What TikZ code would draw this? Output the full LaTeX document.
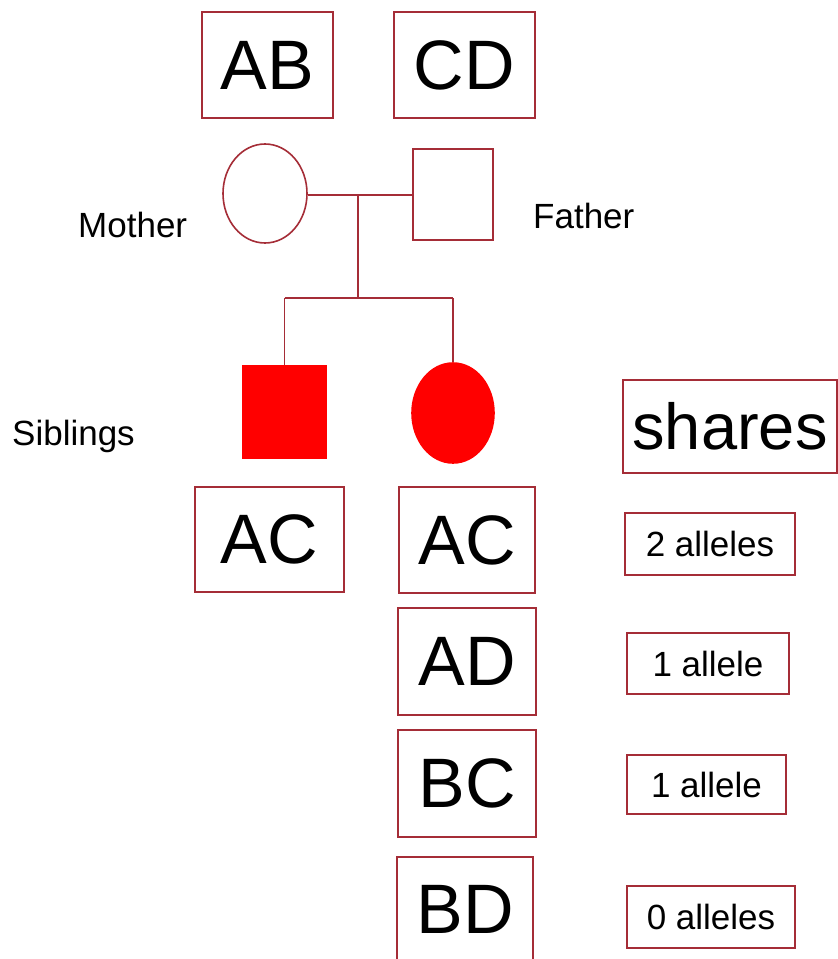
\documentclass[tikz,border=0pt]{standalone}
\usepackage{fontspec}
\setmainfont{Liberation Sans}
\usetikzlibrary{shapes.geometric}
\definecolor{boxred}{RGB}{165,45,55}
\definecolor{fillred}{RGB}{255,0,0}
\tikzset{
  gbox/.style={draw=boxred, line width=1.6pt, rectangle, inner sep=0pt, anchor=center,
    font=\fontsize{70}{80}\selectfont},
  abox/.style={draw=boxred, line width=1.6pt, rectangle, inner sep=0pt, anchor=center,
    font=\fontsize{35}{40}\selectfont},
  lbl/.style={inner sep=0pt, font=\fontsize{35}{40}\selectfont},
  sym/.style={draw=boxred, line width=1.6pt, inner sep=0pt},
  link/.style={draw=boxred, line width=1.6pt},
}
\begin{document}
\begin{tikzpicture}[x=1pt,y=-1pt]
\useasboundingbox[fill=white] (0,0) rectangle (838,959);
% parents' genotypes
\node[gbox, minimum width=131pt, minimum height=106pt] (ab) at (267.5,65) {AB};
\node[gbox, minimum width=141pt, minimum height=106pt] (cd) at (464.5,65) {CD};
% parents
\node[sym, ellipse, minimum width=84pt, minimum height=99pt] (mother) at (265,193.5) {};
\node[sym, rectangle, minimum width=80pt, minimum height=91pt] (father) at (453,194.5) {};
\node[lbl, anchor=base west] (mlbl) at (78,237) {Mother};
\node[lbl, anchor=base west] (flbl) at (533,228) {Father};
% children
\node[sym, rectangle, fill=fillred, draw=fillred, minimum width=83pt, minimum height=92pt] (son) at (284.5,412) {};
\node[sym, ellipse, fill=fillred, draw=fillred, minimum width=82pt, minimum height=100pt] (dau) at (453,413) {};
\node[lbl, anchor=base west] (slbl) at (12,445) {Siblings};
% connectors
\coordinate (mid) at (358,195);
\coordinate (sib) at (358,298);
\draw[link] (mother.east |- mid) -- (father.west |- mid);
\draw[link] (mid) -- (sib);
\draw[link] (son.north |- sib) -- (dau.north |- sib);
\draw[link] (son.north |- sib) -- (son.north);
\draw[link] (dau.north |- sib) -- (dau.north);
% children genotypes
\node[gbox, minimum width=149pt, minimum height=105pt] (ac1) at (269.5,539.5) {AC};
\node[gbox, minimum width=136pt, minimum height=106pt] (ac2) at (467,540) {AC};
\node[gbox, minimum width=138pt, minimum height=107pt] (ad) at (467,661.5) {AD};
\node[gbox, minimum width=138pt, minimum height=107pt] (bc) at (467,783.5) {BC};
\node[gbox, minimum width=136pt, minimum height=104pt] (bd) at (465,909) {BD};
% shares
\node[gbox, font=\fontsize{65}{75}\selectfont, minimum width=214pt, minimum height=93pt] (shares) at (730,426.5) {shares};
\node[abox, minimum width=170pt, minimum height=62pt] (s2) at (710,544) {2 alleles};
\node[abox, minimum width=162pt, minimum height=61pt] (s1a) at (708,663.5) {1 allele};
\node[abox, minimum width=159pt, minimum height=59pt] (s1b) at (706.5,784.5) {1 allele};
\node[abox, minimum width=168pt, minimum height=62pt] (s0) at (711,917) {0 alleles};
\end{tikzpicture}
\end{document}
